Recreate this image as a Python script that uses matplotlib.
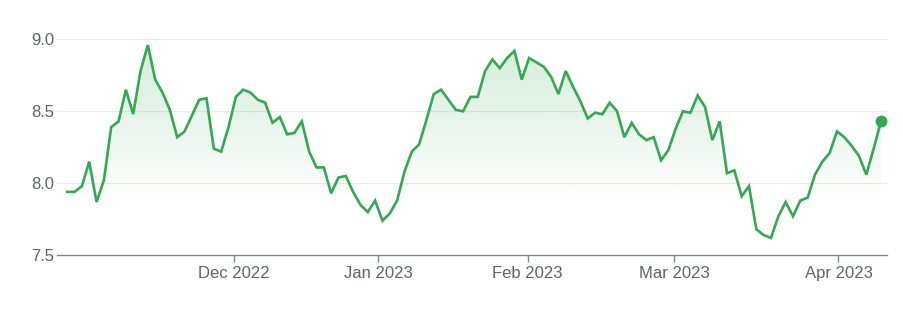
import numpy as np
import matplotlib
matplotlib.use("Agg")
from matplotlib import pyplot as plt

# values, one per trading day
values = [7.94, 7.94, 7.98, 8.15, 7.87, 8.02, 8.39, 8.43, 8.65, 8.48,
          8.78, 8.96, 8.72, 8.63, 8.51, 8.32, 8.36, 8.47, 8.58, 8.59,
          8.24, 8.22, 8.39, 8.60, 8.65, 8.63, 8.58, 8.56, 8.42, 8.46,
          8.34, 8.35, 8.43, 8.22, 8.11, 8.11, 7.93, 8.04, 8.05, 7.94,
          7.85, 7.80, 7.88, 7.74, 7.79, 7.88, 8.08, 8.22, 8.27, 8.44,
          8.62, 8.65, 8.58, 8.51, 8.50, 8.60, 8.60, 8.78, 8.86, 8.80,
          8.87, 8.92, 8.72, 8.87, 8.84, 8.81, 8.74, 8.62, 8.78, 8.67,
          8.57, 8.45, 8.49, 8.48, 8.56, 8.50, 8.32, 8.42, 8.34, 8.30,
          8.32, 8.16, 8.23, 8.38, 8.50, 8.49, 8.61, 8.53, 8.30, 8.43,
          8.07, 8.09, 7.91, 7.98, 7.68, 7.64, 7.62, 7.77, 7.87, 7.77,
          7.88, 7.90, 8.06, 8.15, 8.21, 8.36, 8.32, 8.26, 8.19, 8.06,
          8.24, 8.43]
month_labels = ["Dec 2022", "Jan 2023", "Feb 2023", "Mar 2023", "Apr 2023"]
month_starts = [22.7, 42.4, 62.8, 82.8, 105.2]
y_ticks = [7.5, 8.0, 8.5, 9.0]

GREEN = "#34a853"
GREY = "#5f6368"

plt.rcParams['font.family'] = ['Liberation Sans', 'DejaVu Sans']

x = np.arange(len(values))
y = np.array(values)

fig = plt.figure(figsize=(9.04, 3.12), dpi=100)
ax = fig.add_axes([0.063, 0.182, 0.918, 0.692])

ymin, ymax = 7.5, 9.0
xmin, xmax = -1.4, 111.8

# gradient fill under the line
poly = ax.fill_between(x, y, ymin, color="none", lw=0)
rgba = np.zeros((256, 1, 4))
rgba[..., :3] = matplotlib.colors.to_rgb(GREEN)
ys = np.linspace(ymax, ymin, 256)
rgba[..., 3] = np.clip((ys - 7.85) / (9.0 - 7.85), 0, 1).reshape(-1, 1) * 0.22
img = ax.imshow(rgba, extent=[xmin, xmax, ymin, ymax], aspect="auto",
                origin="upper", zorder=1, interpolation="bilinear")
img.set_clip_path(poly.get_paths()[0], transform=ax.transData)

ax.plot(x, y, color=GREEN, lw=1.9, zorder=3, solid_joinstyle="miter")
ax.plot(x[-1], y[-1], "o", color=GREEN, ms=7.5, zorder=4)

ax.set_xlim(xmin, xmax)
ax.set_ylim(ymin, ymax)

for v in y_ticks[1:]:
    ax.axhline(v, color="#ebebeb", lw=0.8, zorder=0)

ax.set_yticks(y_ticks)
ax.set_yticklabels([f"{v:.1f}" for v in y_ticks])
ax.set_xticks(month_starts)
ax.set_xticklabels(month_labels)

for s in ["top", "right", "left"]:
    ax.spines[s].set_visible(False)
ax.spines["bottom"].set_color("#80868b")
ax.spines["bottom"].set_linewidth(1.0)

ax.tick_params(axis="y", length=0, pad=2, labelsize=12, labelcolor=GREY)
ax.tick_params(axis="x", length=5, width=1, color="#80868b", pad=3,
               labelsize=12, labelcolor=GREY)

fig.savefig("out.png", dpi=100)
